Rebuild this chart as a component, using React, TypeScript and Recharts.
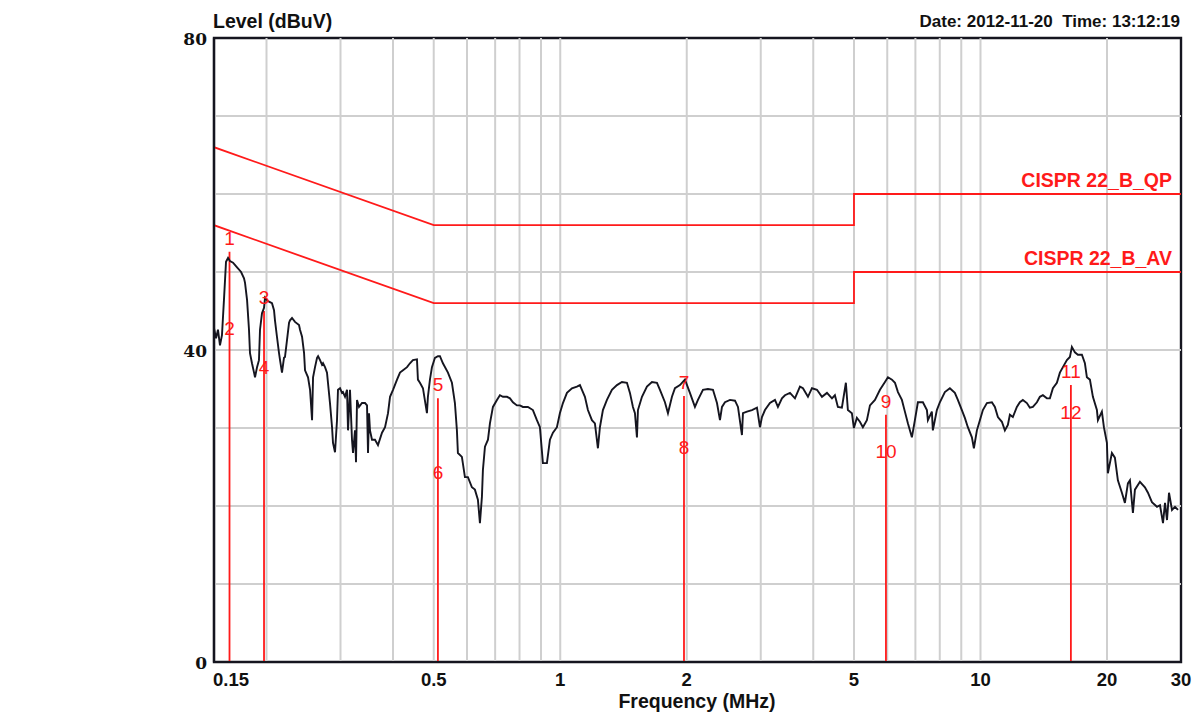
import React from "react";
import {
  ComposedChart,
  Line,
  Scatter,
  XAxis,
  YAxis,
  ReferenceLine,
  ReferenceArea,
} from "recharts";

const FONT = '"Liberation Sans", Arial, Helvetica, sans-serif';
const RED = "#ff1a1a";
const INK = "#15151f";
const GRID = "#cfcfcf";

const traceFreq = [
  0.150, 0.1517, 0.1533, 0.1550, 0.1567, 0.1584, 0.1602, 0.1620, 0.1637, 0.1665,
  0.1702, 0.1740, 0.1768, 0.1778, 0.1798, 0.1817, 0.1827, 0.1847, 0.1868, 0.1878,
  0.1899, 0.1919, 0.1930, 0.1951, 0.1973, 0.1984, 0.2005, 0.2028, 0.2061, 0.2084,
  0.2095, 0.2118, 0.2142, 0.2154, 0.2177, 0.2201, 0.2213, 0.2238, 0.2263, 0.2275,
  0.2300, 0.2338, 0.2390, 0.2403, 0.2430, 0.2457, 0.2470, 0.2511, 0.2539, 0.2567,
  0.2581, 0.2609, 0.2638, 0.2653, 0.2682, 0.2711, 0.2726, 0.2756, 0.2786, 0.2801,
  0.2832, 0.2864, 0.2879, 0.2911, 0.2943, 0.2959, 0.2992, 0.3025, 0.3041, 0.3075,
  0.3109, 0.3126, 0.3160, 0.3195, 0.3213, 0.3248, 0.3266, 0.3284, 0.3320, 0.3375,
  0.3431, 0.3469, 0.3488, 0.3507, 0.3526, 0.3565, 0.3624, 0.3684, 0.3766, 0.3829,
  0.3892, 0.3935, 0.4000, 0.4089, 0.4156, 0.4225, 0.4319, 0.4389, 0.4461, 0.4561,
  0.4585, 0.4636, 0.4713, 0.4817, 0.4843, 0.4897, 0.4951, 0.5033, 0.5116, 0.5173,
  0.5258, 0.5405, 0.5524, 0.5615, 0.5677, 0.5708, 0.5834, 0.5932, 0.6030, 0.6163,
  0.6265, 0.6369, 0.6440, 0.6511, 0.6546, 0.6620, 0.6730, 0.6803, 0.6916, 0.7069,
  0.7186, 0.7306, 0.7468, 0.7592, 0.7716, 0.7887, 0.8018, 0.8150, 0.8377, 0.8609,
  0.8800, 0.8946, 0.9094, 0.9296, 0.9451, 0.9608, 0.982, 0.998, 1.0149, 1.0374,
  1.0662, 1.0958, 1.1140, 1.1263, 1.1448, 1.1637, 1.1895, 1.2092, 1.2293, 1.2428,
  1.2634, 1.2915, 1.3273, 1.3644, 1.4022, 1.4412, 1.4651, 1.4893, 1.5057, 1.5224,
  1.5308, 1.5647, 1.6080, 1.6529, 1.6988, 1.727, 1.7748, 1.8043, 1.8442, 1.8748,
  1.9268, 1.9804, 2.035, 2.0918, 2.1266, 2.1856, 2.2462, 2.309, 2.3603, 2.3993,
  2.4258, 2.466, 2.5345, 2.605, 2.648, 2.7063, 2.7213, 2.7816, 2.8587, 2.9382,
  2.9868, 3.0198, 3.07, 3.155, 3.243, 3.296, 3.3696, 3.4256, 3.5208, 3.6184,
  3.7188, 3.7804, 3.8856, 3.9716, 4.082, 4.1952, 4.312, 4.4316, 4.5035, 4.578,
  4.6795, 4.783, 4.8355, 4.943, 4.9973, 5.08, 5.1645, 5.25, 5.3665, 5.4576,
  5.6088, 5.7648, 5.925, 6.0228, 6.1566, 6.2586, 6.3624, 6.5009, 6.6087, 6.7179,
  6.867, 6.981, 7.0966, 7.294, 7.4557, 7.4963, 7.6608, 7.7032, 7.8736, 8.004,
  8.2264, 8.4555, 8.6895, 8.8335, 9.0297, 9.1791, 9.3312, 9.54, 9.645, 9.805,
  9.967, 10.132, 10.357, 10.645, 10.821, 11.0, 11.243, 11.429, 11.618, 11.747,
  11.941, 12.205, 12.408, 12.613, 12.893, 13.106, 13.324, 13.622, 13.847, 14.076,
  14.388, 14.627, 14.87, 15.198, 15.45, 15.707, 16.055, 16.322, 16.5, 16.775,
  17.052, 17.43, 17.72, 17.914, 18.212, 18.514, 18.924, 19.028, 19.448, 19.664,
  19.99, 20.098, 20.544, 20.884, 21.23, 21.702, 22.062, 22.428, 22.678, 23.053,
  23.308, 23.955, 24.62, 25.03, 25.583, 26.304, 26.739, 27.183, 27.483, 27.786,
  28.091, 28.557, 29.03, 29.511,
];

const traceLevel = [
  42.8, 41.5, 42.6, 40.6, 41.9, 46.4, 51.3, 51.8, 51.4, 51.2,
  50.6, 50.0, 49.2, 48.6, 46.4, 42.6, 39.6, 38.3, 37.1, 36.5,
  37.8, 38.7, 42.6, 44.7, 45.4, 46.7, 46.4, 46.2, 46.0, 45.1,
  43.8, 41.7, 39.6, 38.7, 37.1, 39.0, 39.1, 41.3, 43.5, 43.8,
  44.1, 43.6, 43.2, 42.6, 41.7, 39.6, 37.4, 36.5, 34.9, 31.0,
  36.5, 37.8, 39.0, 39.2, 38.7, 38.1, 38.3, 37.8, 37.1, 35.8,
  33.2, 30.1, 28.1, 26.9, 31.0, 34.9, 35.1, 34.5, 34.6, 34.0,
  34.9, 29.7, 34.9, 28.5, 26.8, 29.7, 25.6, 33.6, 32.7, 33.2,
  33.2, 32.9, 26.8, 31.9, 29.7, 28.5, 28.5, 27.8, 29.4, 30.1,
  31.9, 34.0, 34.9, 36.2, 37.1, 37.4, 37.8, 38.3, 38.7, 38.8,
  36.2, 35.8, 35.1, 31.9, 34.0, 36.2, 37.8, 39.0, 39.2, 39.2,
  38.3, 37.1, 35.8, 33.2, 29.7, 26.8, 26.3, 23.7, 23.7, 22.4,
  22.1, 20.8, 17.8, 21.2, 24.6, 27.6, 28.5, 30.6, 32.7, 33.6,
  34.2, 34.0, 34.0, 33.8, 33.3, 32.9, 32.9, 32.7, 32.7, 32.3,
  31.0, 30.1, 25.5, 25.5, 28.5, 29.4, 30.1, 31.9, 33.2, 34.5,
  35.1, 35.3, 35.5, 34.9, 34.0, 32.3, 31.0, 30.6, 27.4, 30.1,
  32.3, 33.6, 34.9, 35.5, 35.9, 35.8, 34.5, 32.7, 31.9, 28.8,
  32.3, 34.0, 35.3, 35.9, 35.8, 34.9, 33.3, 31.9, 34.0, 35.1,
  35.5, 36.2, 34.5, 32.7, 33.6, 34.9, 35.0, 34.9, 33.2, 31.0,
  32.7, 33.3, 33.6, 33.5, 32.7, 29.1, 31.9, 32.1, 32.3, 32.6,
  30.1, 31.4, 32.3, 33.2, 33.6, 32.7, 33.8, 34.2, 34.5, 33.8,
  35.3, 35.1, 34.0, 35.1, 34.9, 34.0, 34.5, 33.8, 34.2, 32.7,
  32.6, 35.8, 32.3, 31.9, 30.0, 31.3, 30.8, 30.1, 31.0, 32.9,
  33.6, 34.9, 35.9, 36.5, 36.2, 35.8, 34.6, 33.6, 32.1, 30.6,
  28.8, 31.0, 33.3, 33.3, 32.3, 31.0, 32.1, 29.7, 32.3, 33.3,
  34.6, 35.1, 34.5, 33.6, 32.3, 31.3, 30.1, 28.8, 27.4, 29.7,
  31.0, 32.3, 33.2, 33.3, 32.7, 31.4, 30.8, 29.7, 30.4, 31.7,
  31.4, 32.7, 33.3, 33.6, 33.2, 32.6, 32.7, 33.3, 34.0, 34.2,
  33.8, 33.8, 35.1, 35.8, 37.1, 37.8, 38.7, 39.1, 40.4, 39.7,
  39.4, 39.4, 38.3, 36.5, 36.2, 34.0, 32.3, 31.0, 32.1, 30.1,
  28.1, 24.2, 26.8, 26.2, 23.3, 21.7, 20.4, 22.9, 23.3, 19.1,
  22.1, 23.1, 22.4, 21.7, 20.5, 19.9, 20.1, 17.8, 20.4, 18.2,
  21.7, 19.5, 19.9, 19.5,
];

// CISPR 22 class B limits
const limitFreq = [0.15, 0.5, 5, 5, 30];
const qpLimit = [66, 56, 56, 60, 60];
const avLimit = [56, 46, 46, 50, 50];
const limitNames = ["CISPR 22_B_QP", "CISPR 22_B_AV"];

// final-scan markers
const markerFreq = [0.1633, 0.1973, 0.5116, 1.97, 5.957, 16.41];
const markerQP = [52.6, 45.0, 33.8, 34.1, 31.7, 35.5];
const markerAV = [42.8, 37.8, 24.4, 27.6, 27.1, 32.1];
const markerTopIds = ["1", "3", "5", "7", "9", "11"];
const markerLowIds = ["2", "4", "6", "8", "10", "12"];

// axes
const tickFreqs = [0.15, 0.5, 1, 2, 5, 10, 20, 30];
const innerFreqs = [0.2, 0.3, 0.4, 0.5, 0.6, 0.7, 0.8, 0.9, 1, 2, 3, 4, 5, 6, 7, 8, 9, 10, 20];
const levelTicks = [0, 40, 80];
const innerLevels = [10, 20, 30, 40, 50, 60, 70];
const freqRange = [0.15, 30];
const levelRange = [0, 80];

const traceData = traceFreq.map((f, i) => ({ f, level: traceLevel[i] }));
const qpData = limitFreq.map((f, i) => ({ f, v: qpLimit[i] }));
const avData = limitFreq.map((f, i) => ({ f, v: avLimit[i] }));
const markerData = markerFreq.map((f, i) => ({
  f,
  qp: markerQP[i],
  av: markerAV[i],
  top: markerTopIds[i],
  low: markerLowIds[i],
}));
const limitLabelData = [
  { f: 30, v: qpLimit[qpLimit.length - 1], name: limitNames[0] },
  { f: 30, v: avLimit[avLimit.length - 1], name: limitNames[1] },
];

function FreqTick(props: any) {
  const { x, y, payload } = props;
  const first = payload.value === tickFreqs[0];
  return (
    <text
      x={first ? x - 1 : x}
      y={y + 24}
      textAnchor={first ? "start" : "middle"}
      fontFamily={FONT}
      fontWeight="bold"
      fontSize={18.5}
      fill="#111"
      stroke="none"
    >
      {payload.value}
    </text>
  );
}

function LevelTick(props: any) {
  const { x, y, payload } = props;
  return (
    <text
      x={x}
      y={y + 7}
      textAnchor="end"
      fontFamily='"DejaVu Serif", serif'
      fontWeight="bold"
      fontSize={17}
      fill="#111"
      stroke="none"
    >
      {payload.value}
    </text>
  );
}

const topLabel = (p: any) => (
  <text x={p.cx} y={p.cy - 7} textAnchor="middle" fill={RED} fontSize={19} fontFamily={FONT}>
    {p.payload.top}
  </text>
);

const lowLabel = (p: any) => (
  <text x={p.cx} y={p.cy + 7} textAnchor="middle" fill={RED} fontSize={19} fontFamily={FONT}>
    {p.payload.low}
  </text>
);

const limitLabel = (p: any) => (
  <text
    x={p.cx - 9}
    y={p.cy - 7}
    textAnchor="end"
    fill={RED}
    fontSize={19.5}
    fontWeight="bold"
    fontFamily={FONT}
  >
    {p.payload.name}
  </text>
);

export default function App() {
  return (
    <div style={{ position: "relative", width: 1200, height: 718, background: "#fff" }}>
      <style>{`body{margin:0;background:#fff}`}</style>
      <ComposedChart
        width={1200}
        height={718}
        margin={{ top: 38, right: 19, bottom: 0, left: 0 }}
      >
        {innerFreqs.map((f) => (
          <ReferenceLine key={`gx${f}`} x={f} stroke={GRID} strokeWidth={2} />
        ))}
        {innerLevels.map((v) => (
          <ReferenceLine key={`gy${v}`} y={v} stroke={GRID} strokeWidth={2} />
        ))}
        <XAxis
          dataKey="f"
          type="number"
          scale="log"
          domain={freqRange}
          allowDataOverflow
          ticks={tickFreqs}
          interval={0}
          height={56}
          tickSize={0}
          tickMargin={0}
          stroke={INK}
          strokeWidth={2.2}
          tickLine={false}
          tick={<FreqTick />}
        />
        <YAxis
          type="number"
          domain={levelRange}
          ticks={levelTicks}
          interval={0}
          width={214}
          tickSize={0}
          tickMargin={7}
          stroke={INK}
          strokeWidth={2.2}
          tickLine={false}
          tick={<LevelTick />}
        />
        <Line
          data={qpData}
          dataKey="v"
          type="linear"
          stroke={RED}
          strokeWidth={1.8}
          dot={false}
          activeDot={false}
          isAnimationActive={false}
        />
        <Line
          data={avData}
          dataKey="v"
          type="linear"
          stroke={RED}
          strokeWidth={1.8}
          dot={false}
          activeDot={false}
          isAnimationActive={false}
        />
        {markerData.map((m) => (
          <ReferenceLine
            key={m.top}
            segment={[
              { x: m.f, y: 0 },
              { x: m.f, y: m.qp },
            ]}
            stroke={RED}
            strokeWidth={1.8}
          />
        ))}
        <Line
          data={traceData}
          dataKey="level"
          type="linear"
          stroke={INK}
          strokeWidth={1.9}
          dot={false}
          activeDot={false}
          isAnimationActive={false}
        />
        <Scatter data={markerData} dataKey="qp" shape={topLabel} isAnimationActive={false} />
        <Scatter data={markerData} dataKey="av" shape={lowLabel} isAnimationActive={false} />
        <Scatter data={limitLabelData} dataKey="v" shape={limitLabel} isAnimationActive={false} />
        <ReferenceArea
          x1={freqRange[0]}
          x2={freqRange[1]}
          y1={levelRange[0]}
          y2={levelRange[1]}
          ifOverflow="visible"
          fill="#ffffff"
          fillOpacity={0}
          stroke={INK}
          strokeOpacity={1}
          strokeWidth={2.4}
        />
      </ComposedChart>
      <svg
        width={1200}
        height={718}
        style={{ position: "absolute", left: 0, top: 0, pointerEvents: "none" }}
      >
        <text x={213} y={28} fontFamily={FONT} fontWeight="bold" fontSize={19.5} fill="#111">
          Level (dBuV)
        </text>
        <text
          x={1180}
          y={27}
          textAnchor="end"
          fontFamily={FONT}
          fontWeight="bold"
          fontSize={17}
          fill="#111"
          style={{ whiteSpace: "pre" }}
        >
          {"Date: 2012-11-20  Time: 13:12:19"}
        </text>
        <text
          x={697}
          y={708}
          textAnchor="middle"
          fontFamily={FONT}
          fontWeight="bold"
          fontSize={19.5}
          fill="#111"
        >
          Frequency (MHz)
        </text>
      </svg>
    </div>
  );
}
